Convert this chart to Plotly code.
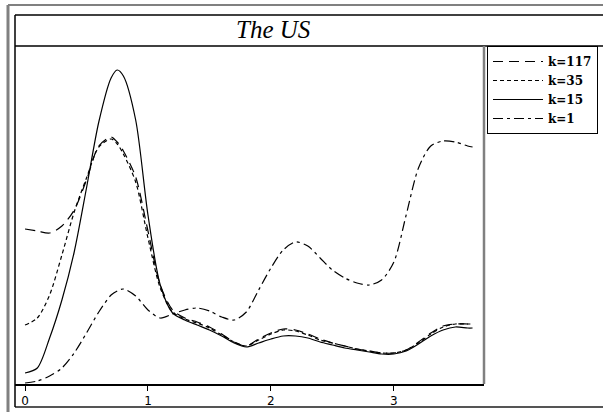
import plotly.graph_objects as go

# ---- data (x: frequency, y: estimated spectrum, arbitrary units) ----
freq = [0.0, 0.1, 0.2, 0.3, 0.4, 0.5, 0.6, 0.7, 0.75, 0.8, 0.9, 1.0, 1.1, 1.2, 1.3,
        1.4, 1.5, 1.6, 1.7, 1.8, 1.9, 2.0, 2.1, 2.2, 2.3, 2.4, 2.5, 2.6, 2.7, 2.8,
        2.9, 3.0, 3.1, 3.2, 3.3, 3.4, 3.5, 3.6, 3.64]

k117 = [1.55, 1.53, 1.51, 1.58, 1.74, 2.04, 2.38, 2.47, 2.42, 2.33, 2.07, 1.53, 0.99,
        0.74, 0.66, 0.62, 0.57, 0.50, 0.42, 0.38, 0.45, 0.51, 0.55, 0.54, 0.50, 0.45,
        0.41, 0.38, 0.35, 0.33, 0.31, 0.31, 0.34, 0.42, 0.51, 0.58, 0.60, 0.60, 0.60]

k35 = [0.59, 0.66, 0.89, 1.29, 1.72, 2.06, 2.37, 2.45, 2.40, 2.30, 2.02, 1.46, 0.96,
       0.72, 0.65, 0.61, 0.56, 0.49, 0.42, 0.38, 0.44, 0.50, 0.54, 0.53, 0.49, 0.44,
       0.41, 0.38, 0.35, 0.33, 0.31, 0.31, 0.34, 0.41, 0.50, 0.57, 0.60, 0.60, 0.60]

k15 = [0.11, 0.16, 0.46, 0.84, 1.32, 1.96, 2.62, 3.06, 3.14, 3.08, 2.64, 1.69, 0.99,
       0.71, 0.64, 0.59, 0.54, 0.48, 0.41, 0.37, 0.41, 0.45, 0.48, 0.48, 0.46, 0.42,
       0.39, 0.36, 0.34, 0.32, 0.30, 0.30, 0.33, 0.40, 0.48, 0.54, 0.57, 0.56, 0.56]

k1 = [0.01, 0.03, 0.08, 0.16, 0.31, 0.51, 0.72, 0.89, 0.93, 0.95, 0.88, 0.74, 0.66,
      0.70, 0.74, 0.76, 0.73, 0.67, 0.64, 0.72, 0.94, 1.16, 1.34, 1.42, 1.38, 1.26,
      1.14, 1.06, 1.01, 0.99, 1.04, 1.22, 1.69, 2.16, 2.38, 2.43, 2.42, 2.38, 2.37]

series_names = ["k=117", "k=35", "k=15", "k=1"]
tick_vals = [0, 1, 2, 3]
tick_text = ["0", "1", "2", "3"]
title_text = "The US"

# ---- figure ----
W, H = 603, 412
def px(x):
    return x / W
def py(y):
    return 1 - y / H

dashes = ["10px,6px", "4px,3px", "solid", "10px,4px,3px,4px"]
fig = go.Figure()
for name, ys, d in zip(series_names, [k117, k35, k15, k1], dashes):
    fig.add_trace(go.Scatter(
        x=freq, y=ys, mode="lines", name="<b>%s</b>" % name,
        line=dict(color="black", width=1.2, dash=d, shape="spline", smoothing=0.8),
    ))

shapes = []
def line(x0, y0, x1, y1, color, width):
    shapes.append(dict(type="line", xref="paper", yref="paper",
                       x0=px(x0), y0=py(y0), x1=px(x1), y1=py(y1),
                       line=dict(color=color, width=width)))

# outer gray frame
line(8, 5, 603, 5, "#808080", 2)
line(8, 5, 8, 412, "#808080", 3)
line(15, 407, 603, 407, "#555555", 2)
# inner black box
line(15, 15, 603, 15, "black", 1.5)
line(15, 15, 15, 407, "black", 1.5)
# title band bottom
line(15, 46, 603, 46, "black", 1.5)
# plot area right edge
line(484, 46, 484, 384, "#808080", 2.5)

fig.update_layout(
    width=W, height=H,
    margin=dict(l=0, r=0, t=0, b=0),
    paper_bgcolor="white", plot_bgcolor="white",
    showlegend=True,
    legend=dict(x=px(487), y=py(46), xanchor="left", yanchor="top",
                bordercolor="black", borderwidth=1, bgcolor="white",
                font=dict(family="DejaVu Serif", size=12, color="black"),
                tracegroupgap=0, itemwidth=50),
    xaxis=dict(domain=[px(15), px(484)], range=[-0.0815, 3.733],
               tickvals=tick_vals, ticktext=tick_text, ticks="outside",
               ticklen=5, tickcolor="black", tickwidth=1,
               showline=True, linecolor="black", linewidth=1.5,
               showgrid=False, zeroline=False,
               tickfont=dict(family="DejaVu Sans", size=12, color="black")),
    yaxis=dict(domain=[py(384), py(46)], range=[0, 3.38],
               showticklabels=False, ticks="", showgrid=False, zeroline=False,
               showline=False),
    shapes=shapes,
    annotations=[dict(text="<i>%s</i>" % title_text, xref="paper", yref="paper",
                      x=px(273), y=py(30), xanchor="center", yanchor="middle",
                      showarrow=False,
                      font=dict(family="Liberation Serif", size=25, color="black"))],
)

fig.write_html("out.html")
